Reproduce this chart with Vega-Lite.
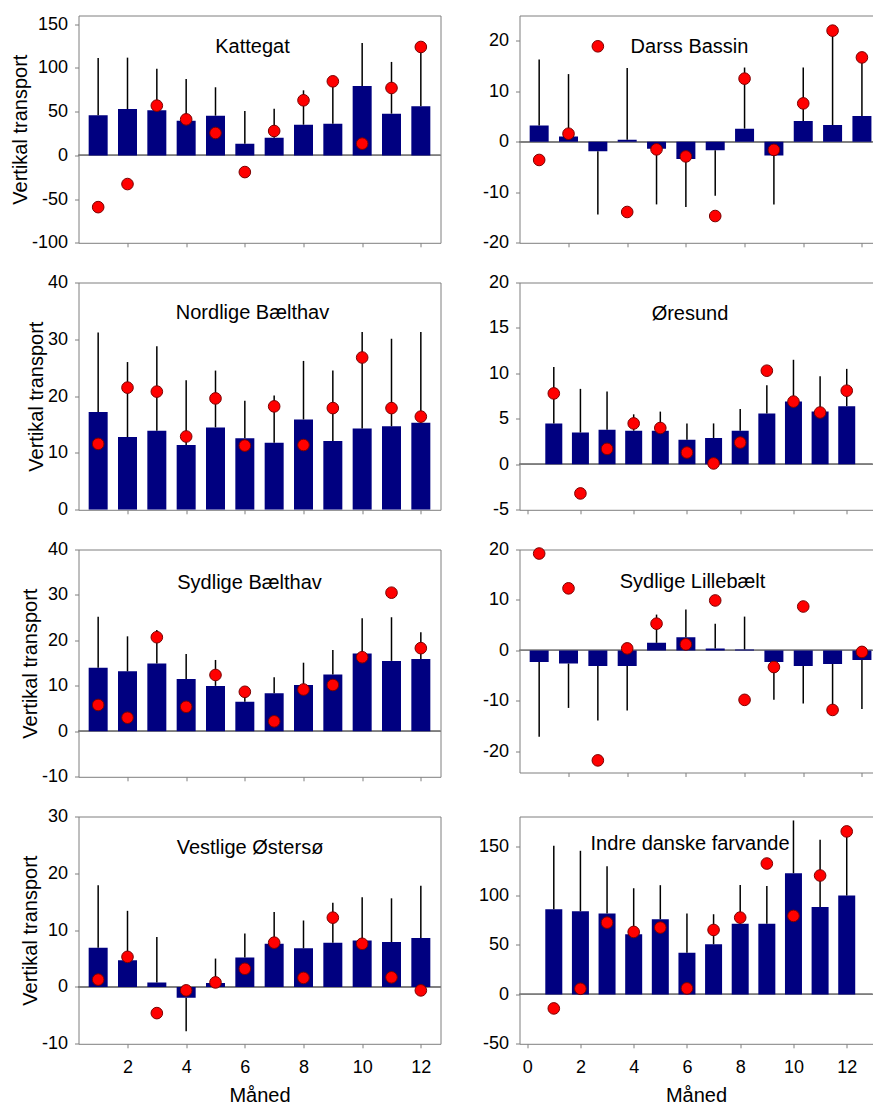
{
  "$schema": "https://vega.github.io/schema/vega-lite/v6.json",
  "background": "white",
  "padding": {"left": 9.5, "top": 14.5, "right": 0, "bottom": 0},
  "columns": 2,
  "spacing": {"row": 39, "column": 79},
  "bounds": "flush",
  "datasets": {
    "kattegat": [
      {"month": 1, "mean": 45.8, "errEnd": 111.5, "obs": -59.2},
      {"month": 2, "mean": 53.0, "errEnd": 111.8, "obs": -32.8},
      {"month": 3, "mean": 51.5, "errEnd": 99.2, "obs": 56.9},
      {"month": 4, "mean": 39.7, "errEnd": 87.4, "obs": 41.2},
      {"month": 5, "mean": 45.4, "errEnd": 77.9, "obs": 25.6},
      {"month": 6, "mean": 13.4, "errEnd": 50.8, "obs": -19.1},
      {"month": 7, "mean": 20.2, "errEnd": 53.4, "obs": 27.9},
      {"month": 8, "mean": 35.1, "errEnd": 74.4, "obs": 63.0},
      {"month": 9, "mean": 36.3, "errEnd": 82.0, "obs": 84.7},
      {"month": 10, "mean": 79.4, "errEnd": 128.6, "obs": 13.4},
      {"month": 11, "mean": 47.7, "errEnd": 106.9, "obs": 77.1},
      {"month": 12, "mean": 56.1, "errEnd": 120.0, "obs": 124.0}
    ],
    "darss": [
      {"month": 1, "mean": 3.2, "errEnd": 16.3, "obs": -3.6},
      {"month": 2, "mean": 1.05, "errEnd": 13.4, "obs": 1.6},
      {"month": 3, "mean": -1.9, "errEnd": -14.4, "obs": 18.9},
      {"month": 4, "mean": 0.4, "errEnd": 14.6, "obs": -13.9},
      {"month": 5, "mean": -1.4, "errEnd": -12.4, "obs": -1.5},
      {"month": 6, "mean": -3.4, "errEnd": -12.9, "obs": -2.9},
      {"month": 7, "mean": -1.7, "errEnd": -10.7, "obs": -14.7},
      {"month": 8, "mean": 2.6, "errEnd": 14.7, "obs": 12.5},
      {"month": 9, "mean": -2.7, "errEnd": -12.4, "obs": -1.6},
      {"month": 10, "mean": 4.1, "errEnd": 14.7, "obs": 7.6},
      {"month": 11, "mean": 3.3, "errEnd": 21.0, "obs": 22.0},
      {"month": 12, "mean": 5.1, "errEnd": 16.0, "obs": 16.7}
    ],
    "nordlige": [
      {"month": 1, "mean": 17.2, "errEnd": 31.2, "obs": 11.6},
      {"month": 2, "mean": 12.8, "errEnd": 26.0, "obs": 21.5},
      {"month": 3, "mean": 13.9, "errEnd": 28.8, "obs": 20.8},
      {"month": 4, "mean": 11.4, "errEnd": 22.8, "obs": 12.9},
      {"month": 5, "mean": 14.5, "errEnd": 24.5, "obs": 19.6},
      {"month": 6, "mean": 12.6, "errEnd": 19.2, "obs": 11.3},
      {"month": 7, "mean": 11.8, "errEnd": 20.1, "obs": 18.2},
      {"month": 8, "mean": 15.9, "errEnd": 26.2, "obs": 11.4},
      {"month": 9, "mean": 12.1, "errEnd": 24.5, "obs": 17.9},
      {"month": 10, "mean": 14.3, "errEnd": 31.3, "obs": 26.8},
      {"month": 11, "mean": 14.7, "errEnd": 30.1, "obs": 17.9},
      {"month": 12, "mean": 15.3, "errEnd": 31.3, "obs": 16.4}
    ],
    "oresund": [
      {"month": 1, "mean": 4.5, "errEnd": 10.7, "obs": 7.8},
      {"month": 2, "mean": 3.5, "errEnd": 8.3, "obs": -3.2},
      {"month": 3, "mean": 3.8, "errEnd": 8.0, "obs": 1.7},
      {"month": 4, "mean": 3.7, "errEnd": 5.5, "obs": 4.5},
      {"month": 5, "mean": 3.7, "errEnd": 5.8, "obs": 4.0},
      {"month": 6, "mean": 2.7, "errEnd": 4.5, "obs": 1.3},
      {"month": 7, "mean": 2.9, "errEnd": 4.5, "obs": 0.1},
      {"month": 8, "mean": 3.7, "errEnd": 6.1, "obs": 2.4},
      {"month": 9, "mean": 5.6, "errEnd": 8.7, "obs": 10.3},
      {"month": 10, "mean": 6.9, "errEnd": 11.5, "obs": 6.9},
      {"month": 11, "mean": 5.8, "errEnd": 9.7, "obs": 5.7},
      {"month": 12, "mean": 6.4, "errEnd": 10.5, "obs": 8.1}
    ],
    "sydligeBaelthav": [
      {"month": 1, "mean": 14.0, "errEnd": 25.2, "obs": 5.8},
      {"month": 2, "mean": 13.2, "errEnd": 20.9, "obs": 3.0},
      {"month": 3, "mean": 14.9, "errEnd": 22.3, "obs": 20.7},
      {"month": 4, "mean": 11.5, "errEnd": 17.0, "obs": 5.4},
      {"month": 5, "mean": 10.0, "errEnd": 15.7, "obs": 12.4},
      {"month": 6, "mean": 6.5, "errEnd": 8.5, "obs": 8.7},
      {"month": 7, "mean": 8.4, "errEnd": 11.9, "obs": 2.2},
      {"month": 8, "mean": 10.2, "errEnd": 15.1, "obs": 9.2},
      {"month": 9, "mean": 12.5, "errEnd": 17.9, "obs": 10.2},
      {"month": 10, "mean": 17.1, "errEnd": 24.9, "obs": 16.3},
      {"month": 11, "mean": 15.5, "errEnd": 25.1, "obs": 30.5},
      {"month": 12, "mean": 15.9, "errEnd": 21.8, "obs": 18.3}
    ],
    "lillebaelt": [
      {"month": 1, "mean": -2.3, "errEnd": -17.1, "obs": 19.2},
      {"month": 2, "mean": -2.6, "errEnd": -11.4, "obs": 12.3},
      {"month": 3, "mean": -3.1, "errEnd": -13.9, "obs": -21.8},
      {"month": 4, "mean": -3.1, "errEnd": -11.9, "obs": 0.4},
      {"month": 5, "mean": 1.5, "errEnd": 7.1, "obs": 5.3},
      {"month": 6, "mean": 2.6, "errEnd": 8.1, "obs": 1.2},
      {"month": 7, "mean": 0.4, "errEnd": 5.3, "obs": 9.9},
      {"month": 8, "mean": 0.2, "errEnd": 6.7, "obs": -9.8},
      {"month": 9, "mean": -2.3, "errEnd": -9.8, "obs": -3.3},
      {"month": 10, "mean": -3.1, "errEnd": -10.5, "obs": 8.7},
      {"month": 11, "mean": -2.7, "errEnd": -11.5, "obs": -11.8},
      {"month": 12, "mean": -1.9, "errEnd": -11.6, "obs": -0.3}
    ],
    "vestlige": [
      {"month": 1, "mean": 6.9, "errEnd": 17.9, "obs": 1.3},
      {"month": 2, "mean": 4.7, "errEnd": 13.4, "obs": 5.3},
      {"month": 3, "mean": 0.8, "errEnd": 8.8, "obs": -4.6},
      {"month": 4, "mean": -1.9, "errEnd": -7.8, "obs": -0.6},
      {"month": 5, "mean": 0.7, "errEnd": 5.0, "obs": 0.8},
      {"month": 6, "mean": 5.2, "errEnd": 9.4, "obs": 3.2},
      {"month": 7, "mean": 7.6, "errEnd": 13.2, "obs": 7.8},
      {"month": 8, "mean": 6.8, "errEnd": 11.7, "obs": 1.6},
      {"month": 9, "mean": 7.8, "errEnd": 14.8, "obs": 12.2},
      {"month": 10, "mean": 8.2, "errEnd": 15.8, "obs": 7.6},
      {"month": 11, "mean": 7.9, "errEnd": 15.6, "obs": 1.7},
      {"month": 12, "mean": 8.6, "errEnd": 17.8, "obs": -0.6}
    ],
    "indre": [
      {"month": 1, "mean": 86.1, "errEnd": 150.3, "obs": -14.2},
      {"month": 2, "mean": 84.1, "errEnd": 145.3, "obs": 5.7},
      {"month": 3, "mean": 81.8, "errEnd": 129.7, "obs": 72.6},
      {"month": 4, "mean": 60.8, "errEnd": 107.4, "obs": 63.2},
      {"month": 5, "mean": 76.0, "errEnd": 110.5, "obs": 67.6},
      {"month": 6, "mean": 42.2, "errEnd": 81.8, "obs": 6.1},
      {"month": 7, "mean": 50.7, "errEnd": 81.1, "obs": 65.2},
      {"month": 8, "mean": 71.6, "errEnd": 110.8, "obs": 77.7},
      {"month": 9, "mean": 71.6, "errEnd": 109.8, "obs": 132.4},
      {"month": 10, "mean": 122.6, "errEnd": 176.0, "obs": 79.4},
      {"month": 11, "mean": 88.5, "errEnd": 156.4, "obs": 120.3},
      {"month": 12, "mean": 100.0, "errEnd": 162.0, "obs": 164.9}
    ]
  },
  "concat": [
    {
      "width": 362, "height": 227.3,
      "data": {"name": "kattegat"},
      "title": {"text": "Kattegat", "offset": -41.7, "dx": -7},
      "layer": [
        {"mark": {"type": "rule", "color": "#7f7f7f"}, "encoding": {"y": {"datum": 0, "type": "quantitative", "scale": {"domain": [-100, 160], "nice": false, "zero": false}, "axis": null}}},
        {"mark": {"type": "bar", "width": 19, "color": "#000080", "clip": true},
         "encoding": {
           "x": {"field": "month", "type": "quantitative", "scale": {"domain": [0.5, 12.5], "nice": false, "zero": false}, "axis": {"orient": "bottom", "values": [2, 4, 6, 8, 10, 12], "labels": false, "title": null}},
           "y": {"field": "mean", "type": "quantitative", "scale": {"domain": [-100, 160], "nice": false, "zero": false}, "axis": {"orient": "left", "values": [-100, -50, 0, 50, 100, 150], "labelExpr": "replace(datum.label, '\u2212', '-')", "title": "Vertikal transport"}}}},
        {"mark": {"type": "rule", "color": "black", "strokeWidth": 1.5},
         "encoding": {"x": {"field": "month", "type": "quantitative", "axis": null}, "y": {"field": "mean", "type": "quantitative", "axis": null}, "y2": {"field": "errEnd"}}},
        {"mark": {"type": "point", "shape": "circle", "filled": true, "fill": "#ff0000", "stroke": "#7a0000", "strokeWidth": 1, "size": 135, "opacity": 1},
         "encoding": {
           "x": {"field": "month", "type": "quantitative", "axis": {"orient": "top", "ticks": false, "labels": false, "title": null}},
           "y": {"field": "obs", "type": "quantitative", "axis": {"orient": "right", "ticks": false, "labels": false, "title": null}}}}
      ],
      "resolve": {"axis": {"x": "independent", "y": "independent"}}
    },
    {
      "width": 353, "height": 227.3,
      "data": {"name": "darss"},
      "title": {"text": "Darss Bassin", "offset": -41.5, "dx": -6.5},
      "layer": [
        {"mark": {"type": "rule", "color": "#7f7f7f"}, "encoding": {"y": {"datum": 0, "type": "quantitative", "scale": {"domain": [-20, 25], "nice": false, "zero": false}, "axis": null}}},
        {"mark": {"type": "bar", "width": 19, "color": "#000080", "clip": true},
         "encoding": {
           "x": {"field": "month", "type": "quantitative", "scale": {"domain": [0.5, 12.19], "nice": false, "zero": false}, "axis": {"orient": "bottom", "values": [2, 4, 6, 8, 10, 12], "labels": false, "title": null}},
           "y": {"field": "mean", "type": "quantitative", "scale": {"domain": [-20, 25], "nice": false, "zero": false}, "axis": {"orient": "left", "values": [-20, -10, 0, 10, 20], "labelExpr": "replace(datum.label, '\u2212', '-')", "title": null}}}},
        {"mark": {"type": "rule", "color": "black", "strokeWidth": 1.5},
         "encoding": {"x": {"field": "month", "type": "quantitative", "axis": null}, "y": {"field": "mean", "type": "quantitative", "axis": null}, "y2": {"field": "errEnd"}}},
        {"mark": {"type": "point", "shape": "circle", "filled": true, "fill": "#ff0000", "stroke": "#7a0000", "strokeWidth": 1, "size": 135, "opacity": 1},
         "encoding": {
           "x": {"field": "month", "type": "quantitative", "axis": {"orient": "top", "ticks": false, "labels": false, "title": null}},
           "y": {"field": "obs", "type": "quantitative", "axis": null}}}
      ],
      "resolve": {"axis": {"x": "independent", "y": "independent"}}
    },
    {
      "width": 362, "height": 227.3,
      "data": {"name": "nordlige"},
      "title": {"text": "Nordlige Bælthav", "offset": -49, "dx": -7},
      "layer": [
        {"mark": {"type": "bar", "width": 19, "color": "#000080", "clip": true},
         "encoding": {
           "x": {"field": "month", "type": "quantitative", "scale": {"domain": [0.5, 12.5], "nice": false, "zero": false}, "axis": {"orient": "bottom", "values": [2, 4, 6, 8, 10, 12], "labels": false, "title": null}},
           "y": {"field": "mean", "type": "quantitative", "scale": {"domain": [0, 40], "nice": false, "zero": false}, "axis": {"orient": "left", "values": [0, 10, 20, 30, 40], "labelExpr": "replace(datum.label, '\u2212', '-')", "title": "Vertikal transport"}}}},
        {"mark": {"type": "rule", "color": "black", "strokeWidth": 1.5},
         "encoding": {"x": {"field": "month", "type": "quantitative", "axis": null}, "y": {"field": "mean", "type": "quantitative", "axis": null}, "y2": {"field": "errEnd"}}},
        {"mark": {"type": "point", "shape": "circle", "filled": true, "fill": "#ff0000", "stroke": "#7a0000", "strokeWidth": 1, "size": 135, "opacity": 1},
         "encoding": {
           "x": {"field": "month", "type": "quantitative", "axis": {"orient": "top", "ticks": false, "labels": false, "title": null}},
           "y": {"field": "obs", "type": "quantitative", "axis": {"orient": "right", "ticks": false, "labels": false, "title": null}}}}
      ],
      "resolve": {"axis": {"x": "independent", "y": "independent"}}
    },
    {
      "width": 353, "height": 227.3,
      "data": {"name": "oresund"},
      "title": {"text": "Øresund", "offset": -50, "dx": -6},
      "layer": [
        {"mark": {"type": "rule", "color": "#7f7f7f"}, "encoding": {"y": {"datum": 0, "type": "quantitative", "scale": {"domain": [-5, 20], "nice": false, "zero": false}, "axis": null}}},
        {"mark": {"type": "bar", "width": 17, "color": "#000080", "clip": true},
         "encoding": {
           "x": {"field": "month", "type": "quantitative", "scale": {"domain": [-0.1, 12.78], "nice": false, "zero": false}, "axis": {"orient": "bottom", "values": [0, 2, 4, 6, 8, 10, 12], "labels": false, "title": null}},
           "y": {"field": "mean", "type": "quantitative", "scale": {"domain": [-5, 20], "nice": false, "zero": false}, "axis": {"orient": "left", "values": [-5, 0, 5, 10, 15, 20], "labelExpr": "replace(datum.label, '\u2212', '-')", "title": null}}}},
        {"mark": {"type": "rule", "color": "black", "strokeWidth": 1.5},
         "encoding": {"x": {"field": "month", "type": "quantitative", "axis": null}, "y": {"field": "mean", "type": "quantitative", "axis": null}, "y2": {"field": "errEnd"}}},
        {"mark": {"type": "point", "shape": "circle", "filled": true, "fill": "#ff0000", "stroke": "#7a0000", "strokeWidth": 1, "size": 135, "opacity": 1},
         "encoding": {
           "x": {"field": "month", "type": "quantitative", "axis": {"orient": "top", "ticks": false, "labels": false, "title": null}},
           "y": {"field": "obs", "type": "quantitative", "axis": null}}}
      ],
      "resolve": {"axis": {"x": "independent", "y": "independent"}}
    },
    {
      "width": 362, "height": 227.3,
      "data": {"name": "sydligeBaelthav"},
      "title": {"text": "Sydlige Bælthav", "offset": -52.5, "dx": -10},
      "layer": [
        {"mark": {"type": "rule", "color": "#7f7f7f"}, "encoding": {"y": {"datum": 0, "type": "quantitative", "scale": {"domain": [-10, 40], "nice": false, "zero": false}, "axis": null}}},
        {"mark": {"type": "bar", "width": 19, "color": "#000080", "clip": true},
         "encoding": {
           "x": {"field": "month", "type": "quantitative", "scale": {"domain": [0.5, 12.5], "nice": false, "zero": false}, "axis": {"orient": "bottom", "values": [2, 4, 6, 8, 10, 12], "labels": false, "title": null}},
           "y": {"field": "mean", "type": "quantitative", "scale": {"domain": [-10, 40], "nice": false, "zero": false}, "axis": {"orient": "left", "values": [-10, 0, 10, 20, 30, 40], "labelExpr": "replace(datum.label, '\u2212', '-')", "title": "Vertikal transport"}}}},
        {"mark": {"type": "rule", "color": "black", "strokeWidth": 1.5},
         "encoding": {"x": {"field": "month", "type": "quantitative", "axis": null}, "y": {"field": "mean", "type": "quantitative", "axis": null}, "y2": {"field": "errEnd"}}},
        {"mark": {"type": "point", "shape": "circle", "filled": true, "fill": "#ff0000", "stroke": "#7a0000", "strokeWidth": 1, "size": 135, "opacity": 1},
         "encoding": {
           "x": {"field": "month", "type": "quantitative", "axis": {"orient": "top", "ticks": false, "labels": false, "title": null}},
           "y": {"field": "obs", "type": "quantitative", "axis": {"orient": "right", "ticks": false, "labels": false, "title": null}}}}
      ],
      "resolve": {"axis": {"x": "independent", "y": "independent"}}
    },
    {
      "width": 353, "height": 223,
      "data": {"name": "lillebaelt"},
      "title": {"text": "Sydlige Lillebælt", "offset": -51.5, "dx": -3.5},
      "layer": [
        {"mark": {"type": "rule", "color": "#7f7f7f"}, "encoding": {"y": {"datum": 0, "type": "quantitative", "scale": {"domain": [-24.2, 20], "nice": false, "zero": false}, "axis": null}}},
        {"mark": {"type": "bar", "width": 19, "color": "#000080", "clip": true},
         "encoding": {
           "x": {"field": "month", "type": "quantitative", "scale": {"domain": [0.5, 12.19], "nice": false, "zero": false}, "axis": {"orient": "bottom", "values": [2, 4, 6, 8, 10, 12], "labels": false, "title": null}},
           "y": {"field": "mean", "type": "quantitative", "scale": {"domain": [-24.2, 20], "nice": false, "zero": false}, "axis": {"orient": "left", "values": [-20, -10, 0, 10, 20], "labelExpr": "replace(datum.label, '\u2212', '-')", "title": null}}}},
        {"mark": {"type": "rule", "color": "black", "strokeWidth": 1.5},
         "encoding": {"x": {"field": "month", "type": "quantitative", "axis": null}, "y": {"field": "mean", "type": "quantitative", "axis": null}, "y2": {"field": "errEnd"}}},
        {"mark": {"type": "point", "shape": "circle", "filled": true, "fill": "#ff0000", "stroke": "#7a0000", "strokeWidth": 1, "size": 135, "opacity": 1},
         "encoding": {
           "x": {"field": "month", "type": "quantitative", "axis": {"orient": "top", "ticks": false, "labels": false, "title": null}},
           "y": {"field": "obs", "type": "quantitative", "axis": null}}}
      ],
      "resolve": {"axis": {"x": "independent", "y": "independent"}}
    },
    {
      "width": 362, "height": 227.3,
      "data": {"name": "vestlige"},
      "title": {"text": "Vestlige Østersø", "offset": -50, "dx": -9.5},
      "layer": [
        {"mark": {"type": "rule", "color": "#7f7f7f"}, "encoding": {"y": {"datum": 0, "type": "quantitative", "scale": {"domain": [-10, 30], "nice": false, "zero": false}, "axis": null}}},
        {"mark": {"type": "bar", "width": 19, "color": "#000080", "clip": true},
         "encoding": {
           "x": {"field": "month", "type": "quantitative", "scale": {"domain": [0.5, 12.5], "nice": false, "zero": false}, "axis": {"orient": "bottom", "values": [2, 4, 6, 8, 10, 12], "title": "Måned"}},
           "y": {"field": "mean", "type": "quantitative", "scale": {"domain": [-10, 30], "nice": false, "zero": false}, "axis": {"orient": "left", "values": [-10, 0, 10, 20, 30], "labelExpr": "replace(datum.label, '\u2212', '-')", "title": "Vertikal transport"}}}},
        {"mark": {"type": "rule", "color": "black", "strokeWidth": 1.5},
         "encoding": {"x": {"field": "month", "type": "quantitative", "axis": null}, "y": {"field": "mean", "type": "quantitative", "axis": null}, "y2": {"field": "errEnd"}}},
        {"mark": {"type": "point", "shape": "circle", "filled": true, "fill": "#ff0000", "stroke": "#7a0000", "strokeWidth": 1, "size": 135, "opacity": 1},
         "encoding": {
           "x": {"field": "month", "type": "quantitative", "axis": {"orient": "top", "ticks": false, "labels": false, "title": null}},
           "y": {"field": "obs", "type": "quantitative", "axis": {"orient": "right", "ticks": false, "labels": false, "title": null}}}}
      ],
      "resolve": {"axis": {"x": "independent", "y": "independent"}}
    },
    {
      "width": 353, "height": 227.3,
      "data": {"name": "indre"},
      "title": {"text": "Indre danske farvande", "offset": -37, "dx": -6},
      "layer": [
        {"mark": {"type": "rule", "color": "#7f7f7f"}, "encoding": {"y": {"datum": 0, "type": "quantitative", "scale": {"domain": [-50, 180], "nice": false, "zero": false}, "axis": null}}},
        {"mark": {"type": "bar", "width": 17, "color": "#000080", "clip": true},
         "encoding": {
           "x": {"field": "month", "type": "quantitative", "scale": {"domain": [-0.1, 12.78], "nice": false, "zero": false}, "axis": {"orient": "bottom", "values": [0, 2, 4, 6, 8, 10, 12], "title": "Måned"}},
           "y": {"field": "mean", "type": "quantitative", "scale": {"domain": [-50, 180], "nice": false, "zero": false}, "axis": {"orient": "left", "values": [-50, 0, 50, 100, 150], "labelExpr": "replace(datum.label, '\u2212', '-')", "title": null}}}},
        {"mark": {"type": "rule", "color": "black", "strokeWidth": 1.5},
         "encoding": {"x": {"field": "month", "type": "quantitative", "axis": null}, "y": {"field": "mean", "type": "quantitative", "axis": null}, "y2": {"field": "errEnd"}}},
        {"mark": {"type": "point", "shape": "circle", "filled": true, "fill": "#ff0000", "stroke": "#7a0000", "strokeWidth": 1, "size": 135, "opacity": 1},
         "encoding": {
           "x": {"field": "month", "type": "quantitative", "axis": {"orient": "top", "ticks": false, "labels": false, "title": null}},
           "y": {"field": "obs", "type": "quantitative", "axis": null}}}
      ],
      "resolve": {"axis": {"x": "independent", "y": "independent"}}
    }
  ],
  "config": {
    "font": "Liberation Sans",
    "view": {"stroke": null},
    "axis": {
      "domainColor": "#7f7f7f", "domainWidth": 1,
      "tickColor": "#7f7f7f", "tickWidth": 1, "tickSize": 4,
      "labelFont": "Liberation Sans", "labelFontSize": 18, "labelColor": "black",
      "titleFont": "Liberation Sans", "titleFontSize": 20, "titleFontWeight": "normal", "titleColor": "black",
      "grid": false
    },
    "axisLeft": {"labelPadding": 7, "titlePadding": 1},
    "axisBottom": {"labelPadding": 11, "titlePadding": 9},
    "title": {"font": "Liberation Sans", "fontSize": 20, "fontWeight": "normal", "color": "black", "anchor": "middle", "frame": "group", "baseline": "middle"}
  }
}
